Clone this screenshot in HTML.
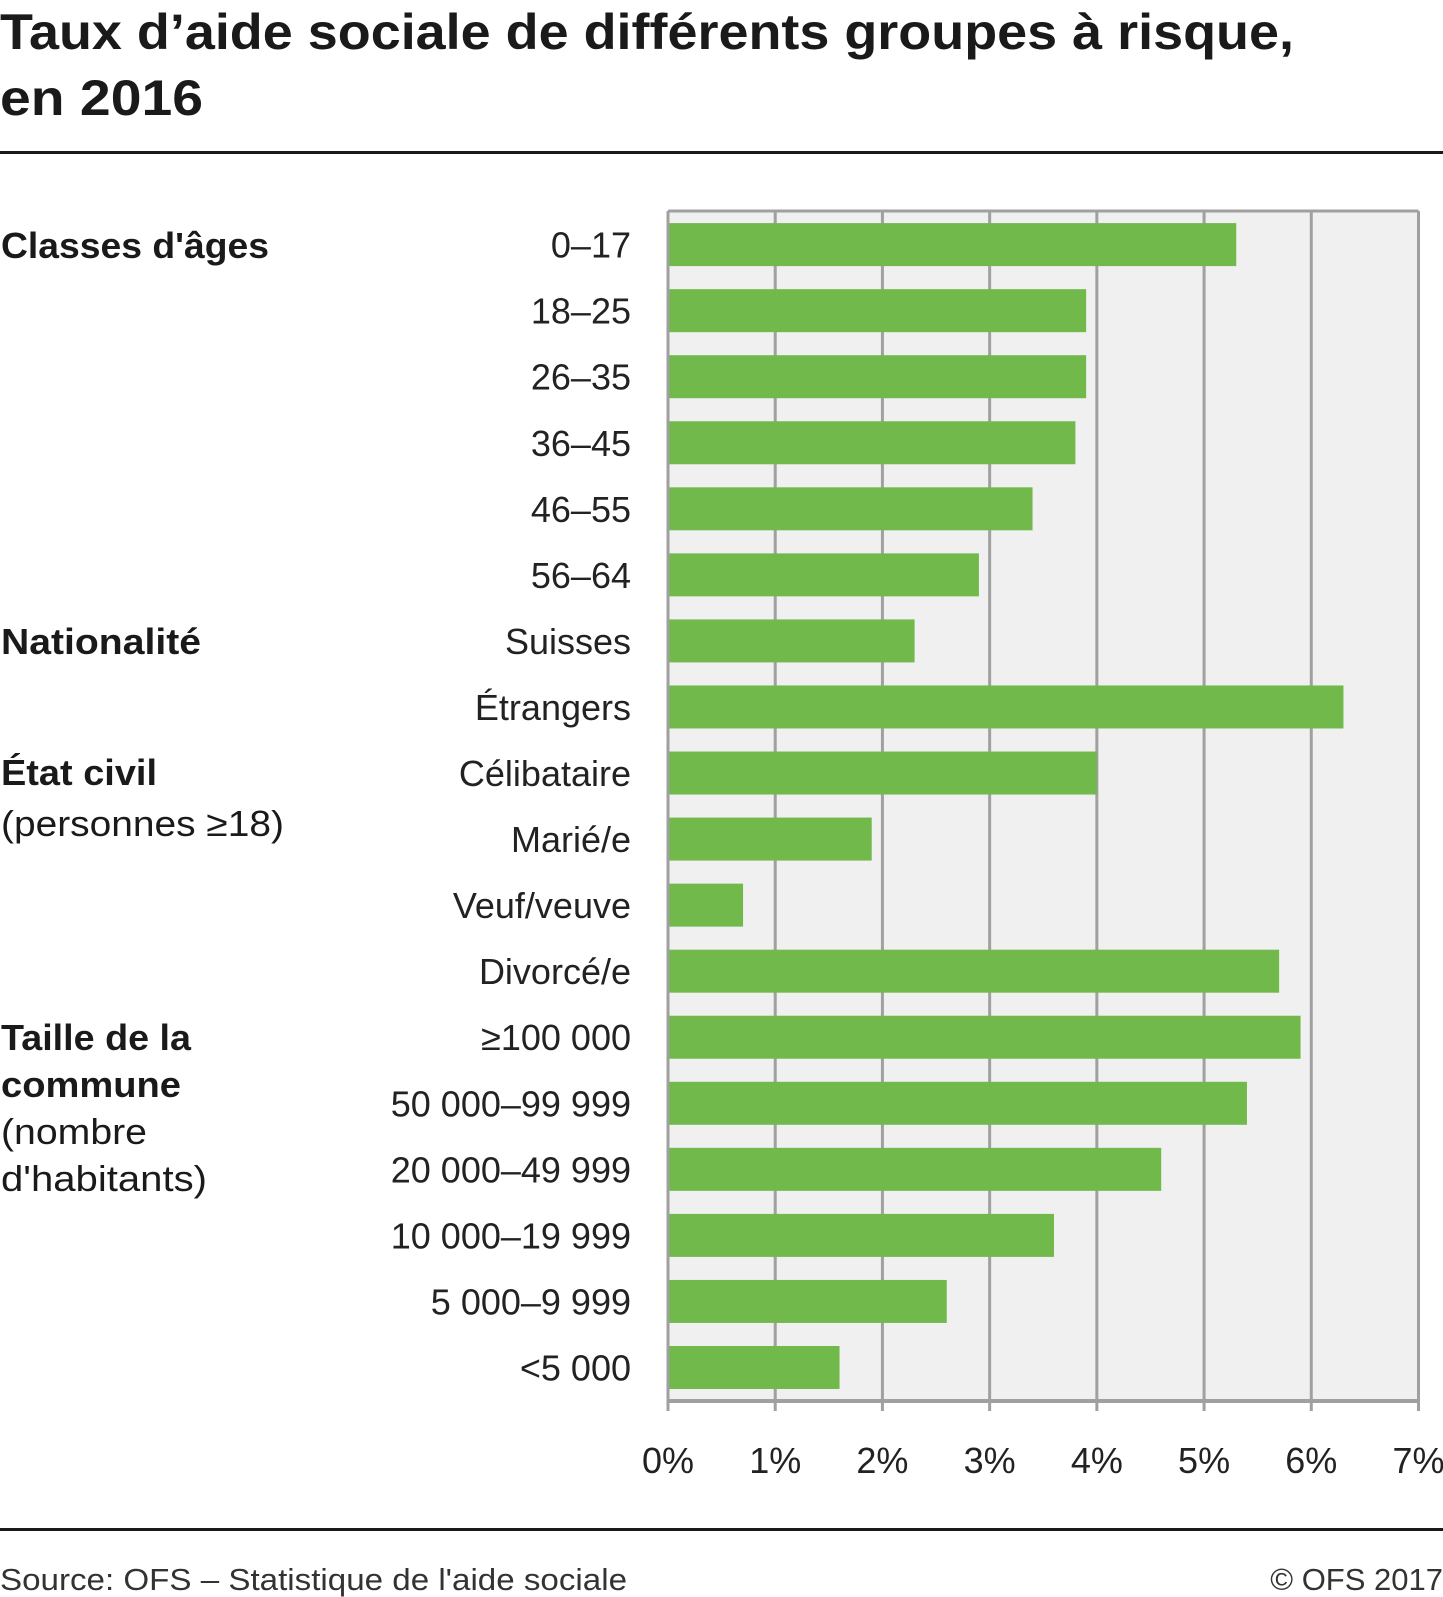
<!DOCTYPE html>
<html><head><meta charset="utf-8"><style>
html,body{margin:0;padding:0;background:#fff;}
svg{display:block;font-family:"Liberation Sans",sans-serif;}
</style></head><body>
<svg id="chart" width="1443" height="1597" viewBox="0 0 1443 1597">
<text x="0" y="49" font-size="50" font-weight="bold" fill="#1a1a1a" textLength="1294" lengthAdjust="spacingAndGlyphs">Taux d’aide sociale de différents groupes à risque,</text>
<text x="0" y="115" font-size="50" font-weight="bold" fill="#1a1a1a" textLength="203" lengthAdjust="spacingAndGlyphs">en 2016</text>
<rect x="0" y="151" width="1443" height="3" fill="#1a1a1a"/>
<g id="plot"></g>
<g id="groups" font-size="36" fill="#1a1a1a">
<text x="1" y="258" font-weight="bold" textLength="268" lengthAdjust="spacingAndGlyphs">Classes d'âges</text>
<text x="1" y="654" font-weight="bold" textLength="200" lengthAdjust="spacingAndGlyphs">Nationalité</text>
<text x="1" y="785" font-weight="bold" textLength="156" lengthAdjust="spacingAndGlyphs">État civil</text>
<text x="1" y="836" textLength="283" lengthAdjust="spacingAndGlyphs">(personnes ≥18)</text>
<text x="1" y="1050" font-weight="bold" textLength="190" lengthAdjust="spacingAndGlyphs">Taille de la</text>
<text x="1" y="1097" font-weight="bold" textLength="180" lengthAdjust="spacingAndGlyphs">commune</text>
<text x="1" y="1144" textLength="146" lengthAdjust="spacingAndGlyphs">(nombre</text>
<text x="1" y="1191" textLength="206" lengthAdjust="spacingAndGlyphs">d'habitants)</text>
</g>
<rect x="0" y="1528" width="1443" height="3" fill="#1a1a1a"/>
<text x="0" y="1590" font-size="31" fill="#333" textLength="627" lengthAdjust="spacingAndGlyphs">Source: OFS – Statistique de l'aide sociale</text>
<text x="1443" y="1590" font-size="31" fill="#333" text-anchor="end">© OFS 2017</text>
</svg>
<script>
const categories=["0–17","18–25","26–35","36–45","46–55","56–64","Suisses","Étrangers","Célibataire","Marié/e","Veuf/veuve","Divorcé/e","≥100 000","50 000–99 999","20 000–49 999","10 000–19 999","5 000–9 999","<5 000"];
const values=[5.3,3.9,3.9,3.8,3.4,2.9,2.3,6.3,4.0,1.9,0.7,5.7,5.9,5.4,4.6,3.6,2.6,1.6];
const ticks=[0,1,2,3,4,5,6,7];
const tickLabels=["0%","1%","2%","3%","4%","5%","6%","7%"];

const NS="http://www.w3.org/2000/svg";
const L=668,R=1418.5,T=211,B=1401;
const xs=v=>L+(R-L)*v/7;
const y0=244.6,step=(1367.5-244.6)/(categories.length-1);
const ys=i=>y0+i*step;
const plot=document.getElementById('plot');
function mk(tag,attrs){const e=document.createElementNS(NS,tag);for(const k in attrs)e.setAttribute(k,attrs[k]);plot.appendChild(e);return e;}
const bg=mk('rect',{x:L,y:T,width:R-L,height:B-T,fill:'#f0f0f0'});


ticks.forEach((t,i)=>{
  const g=mk('line',{x1:xs(t),x2:xs(t),y1:T,y2:B+10,stroke:'#a0a0a0','stroke-width':3});
  
  
  const tl=mk('text',{x:xs(t),y:1473,'font-size':36,fill:'#222','text-anchor':'middle'});
  tl.textContent=tickLabels[i];
  
  
});
const topBorder=mk('line',{x1:L,x2:R,y1:T,y2:T,stroke:'#a0a0a0','stroke-width':3});


const ax=mk('line',{x1:L-1.5,x2:R+1.5,y1:B,y2:B,stroke:'#a0a0a0','stroke-width':4});


categories.forEach((c,i)=>{
  const b=mk('rect',{x:xs(0)+1.5,y:ys(i)-21.5,width:xs(values[i])-xs(0)-1.5,height:43,fill:'#72b94b'});
  
  
  const t=mk('text',{x:631,y:ys(i)+13,'font-size':36,fill:'#222','text-anchor':'end'});
  t.textContent=c;
  
  
});
</script>
</body></html>
